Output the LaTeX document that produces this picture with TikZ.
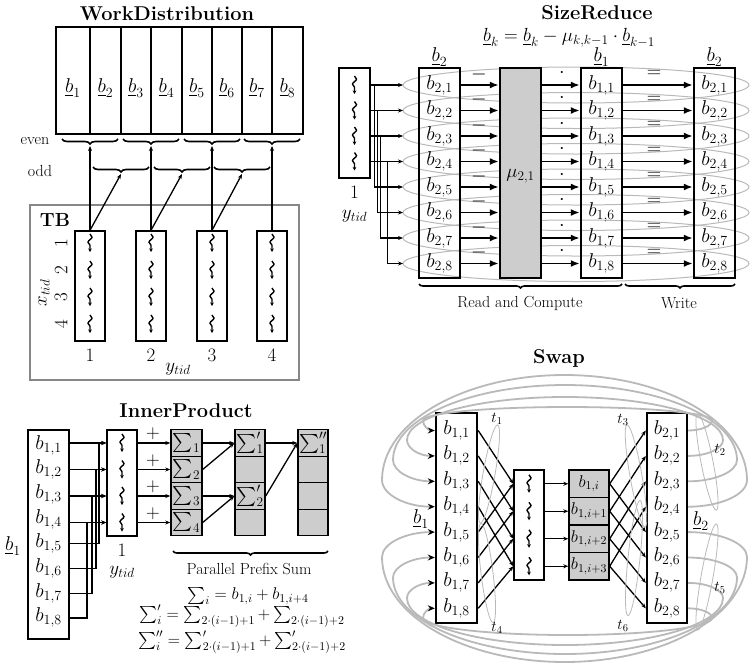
\documentclass[tikz,border=0pt]{standalone}
\usepackage{amsmath,amssymb}
\usetikzlibrary{calc,arrows.meta,positioning,decorations.pathmorphing,decorations.pathreplacing}
% scalable math fonts
\DeclareFontShape{OT1}{cmr}{m}{n}{<-6>cmr5<6-7>cmr6<7-8>cmr7<8-9>cmr8<9-10>cmr9<10-12>cmr10<12-17>cmr12<17->cmr17}{}
\DeclareFontShape{OML}{cmm}{m}{it}{<-6>cmmi5<6-7>cmmi6<7-8>cmmi7<8-9>cmmi8<9-10>cmmi9<10-12>cmmi10<12->cmmi12}{}
\DeclareFontShape{OMS}{cmsy}{m}{n}{<-6>cmsy5<6-7>cmsy6<7-8>cmsy7<8-9>cmsy8<9-10>cmsy9<10->cmsy10}{}
\DeclareFontShape{OMX}{cmex}{m}{n}{<-7.5>cmex7<7.5-8.5>cmex8<8.5-9.5>cmex9<9.5->cmex10}{}
\definecolor{cellgray}{RGB}{205,205,205}
\definecolor{ringgray}{RGB}{185,185,185}
\definecolor{framegray}{RGB}{135,135,135}
\tikzset{
  ptitle/.style={font=\fontsize{20}{22}\selectfont\bfseries, inner sep=0pt},
  plabel/.style={font=\fontsize{20}{22}\selectfont, inner sep=0pt},
  pnum/.style  ={font=\fontsize{19}{21}\selectfont, inner sep=0pt},
  pform/.style ={font=\fontsize{17}{19}\selectfont, inner sep=0pt},
  psmall/.style={font=\fontsize{16}{18}\selectfont, inner sep=0pt},
  ptiny/.style ={font=\fontsize{15}{17}\selectfont, inner sep=0pt},
  pvec/.style  ={draw, line width=2.4pt, inner sep=0pt},
  pthread/.style={draw, line width=1.4pt, inner sep=0pt, minimum width=30pt, minimum height=110pt},
  pcell/.style ={draw, line width=1.4pt, fill=cellgray, inner sep=0pt},
  pwig/.style  ={decorate, decoration={snake, amplitude=2pt, segment length=10pt, post length=3pt},
                 line width=1.4pt, -{Stealth[length=3.5pt, width=3.5pt]}},
  parr/.style  ={-{Stealth[length=5pt, width=4pt]}, line width=1.3pt},
  pbig/.style  ={-{Latex[length=9pt, width=7pt]}, line width=1.8pt},
  pbrace/.style={decorate, decoration={brace, mirror, amplitude=5pt}, line width=1.6pt},
  pring/.style ={ringgray, line width=1pt},
  pswing/.style={ringgray, line width=1.8pt, -{Stealth[length=7pt, width=6pt, black]}},
  ploop/.style ={ringgray, line width=0.8pt},
}

\begin{document}
\begin{tikzpicture}[x=1pt, y=-1pt]
  \useasboundingbox (0,0) rectangle (751,664);

  % WorkDistribution
  \node[ptitle] (wdtitle) at (167,14) {WorkDistribution};
  \node[draw, line width=2pt, minimum width=247pt, minimum height=107pt, inner sep=0pt] (wdvec) at (179.5,80.5) {};
  \foreach \x in {90,121,151,182,212,242,272}
    \draw[line width=1.2pt] (\x,0 |- wdvec.north) -- (\x,0 |- wdvec.south);
  \foreach \i/\x in {1/73, 2/105.5, 3/136, 4/166.5, 5/197, 6/227, 7/257, 8/287.5}
    \node[plabel] (wdb\i) at (\x,88) {$\underline{b}_{\i}$};
  \foreach \k/\x in {1/90, 2/151, 3/212, 4/272} {
    \draw[pbrace] ({\x-28},139) -- ({\x+28},139);
    \coordinate (wdev\k) at (\x,146);
  }
  \foreach \k/\x in {1/121, 2/182, 3/242} {
    \draw[pbrace] ({\x-28},167) -- ({\x+28},167);
    \coordinate (wdod\k) at (\x,174);
  }
  \node[psmall] (wdeven) at (35,141) {even};
  \node[psmall] (wdodd) at (40,171) {odd};
  \node[draw=framegray, line width=1.8pt, minimum width=269pt, minimum height=175pt] (wdtb) at (164.5,292.5) {};
  \node[font=\fontsize{19}{21}\selectfont\bfseries, inner sep=0pt] (wdtbl) at (55,220) {TB};
  \foreach \i/\x in {1/90, 2/151, 3/212, 4/272} {
    \node[pthread] (wdth\i) at (\x,286) {};
    \foreach \y in {243,270,297,324}
      \draw[pwig] (\x,{\y-9}) -- (\x,{\y+9});
    \node[pnum] (wdy\i) at (\x,355) {\i};
    \draw[parr] (wdth\i.north) -- (wdev\i);
  }
  \foreach \i in {1,2,3}
    \draw[parr] (wdth\i.north) -- (wdod\i);
  \foreach \i/\y in {1/243, 2/270, 3/297, 4/324}
    \node[pnum, rotate=90] (wdx\i) at (61,\y) {\i};
  \node[pnum, rotate=90] (wdxt) at (44,293) {$x_{tid}$};
  \node[pnum] (wdyt) at (178,369) {$y_{tid}$};

  % SizeReduce
  \node[ptitle] (srtitle) at (597,13) {SizeReduce};
  \node[pnum] (srform) at (569,38) {$\underline{b}_k = \underline{b}_k - \mu_{k,k-1}\cdot\underline{b}_{k-1}$};
  \foreach \i [evaluate=\i as \y using 85+25.5*(\i-1)] in {1,...,8} {
    \draw[pring] (576,\y) ellipse [x radius=173, y radius=18];
    \coordinate (srl\i) at (403,\y);
  }
  \node[pvec, minimum width=41pt, minimum height=210pt] (srb2) at (439.5,173) {};
  \node[pcell, line width=2.4pt, minimum width=41pt, minimum height=210pt] (srmu) at (520.5,173) {};
  \node[pvec, minimum width=41pt, minimum height=210pt] (srb1) at (601.5,173) {};
  \node[pvec, minimum width=41pt, minimum height=210pt] (srw2) at (714.5,173) {};
  \node[plabel] (srb2l) at (439.5,57) {$\underline{b}_2$};
  \node[plabel] (srb1l) at (601.5,57) {$\underline{b}_1$};
  \node[plabel] (srw2l) at (714.5,57) {$\underline{b}_2$};
  \node[pnum] (srmul) at (520.5,176) {$\mu_{2,1}$};
  \foreach \i [evaluate=\i as \y using 85+25.5*(\i-1)] in {1,...,8} {
    \node[plabel] (srp\i) at (439.5,\y) {$b_{2,\i}$};
    \node[plabel] (srq\i) at (601.5,\y) {$b_{1,\i}$};
    \node[plabel] (srr\i) at (714.5,\y) {$b_{2,\i}$};
    \draw[pbig] (srb2.east |- srl\i) -- (srmu.west |- srl\i);
    \draw[pbig] (srmu.east |- srl\i) -- (srb1.west |- srl\i);
    \draw[pbig] (srb1.east |- srl\i) -- (srw2.west |- srl\i);
    \node[plabel] (srminus\i) at (479,{\y-11}) {$-$};
    \node[plabel] (srdot\i) at (562,{\y-12}) {$\cdot$};
    \node[plabel] (sreq\i) at (654,{\y-11}) {$=$};
  }
  \node[pthread, minimum width=31pt] (srth) at (354.5,123) {};
  \foreach \j/\dx/\k [evaluate=\j as \y using 85+25.5*(\j-1)] in {1/4/5, 2/7/6, 3/10/7, 4/17/8} {
    \draw[pwig] (354.5,{\y-9}) -- (354.5,{\y+9});
    \draw[parr] (srth.east |- srl\j) -- (srl\j);
    \draw[parr] (srth.east |- srl\j) -- ++(\dx,0) |- (srl\k);
  }
  \node[pnum] (sry1) at (354.5,192) {1};
  \node[pnum] (sryt) at (354.5,216) {$y_{tid}$};
  \draw[pbrace, decoration={amplitude=4pt}] (419,284) -- (622,284);
  \draw[pbrace, decoration={amplitude=4pt}] (625,284) -- (735,284);
  \node[psmall] (srrc) at (520,303) {Read and Compute};
  \node[psmall] (srwr) at (679,303) {Write};

  % InnerProduct
  \node[ptitle] (iptitle) at (186,411) {InnerProduct};
  \node[pvec, minimum width=41pt, minimum height=209pt] (ipb1) at (48.5,534.5) {};
  \node[plabel] (ipb1l) at (13,546) {$\underline{b}_1$};
  \foreach \i [evaluate=\i as \y using 445+24.7*(\i-1)] in {1,...,8}
    \node[plabel] (ipr\i) at (48.5,\y) {$b_{1,\i}$};
  \node[pthread, minimum height=106pt] (ipth) at (122,483) {};
  \foreach \j/\k/\xk [evaluate=\j as \y using 443+26.5*(\j-1)] in {1/5/99, 2/6/96, 3/7/92, 4/8/87} {
    \coordinate (ipc\j) at (122,\y);
    \draw[pwig] (122,{\y-9}) -- (122,{\y+9});
    \draw[parr] (ipb1.east |- ipc\j) -- (ipth.west |- ipc\j);
    \draw[parr] (ipb1.east |- ipr\k) -| (\xk,0 |- ipc\j) -- (ipth.west |- ipc\j);
  }
  \node[pnum] (ipy1) at (122,550) {1};
  \node[pnum] (ipyt) at (122,572) {$y_{tid}$};
  \foreach \j [evaluate=\j as \y using 443+26.5*(\j-1)] in {1,...,4} {
    \node[pcell, minimum width=31pt, minimum height=26.5pt, font=\fontsize{19}{21}\selectfont] (ipsA\j) at (186.5,\y) {$\sum_{\j}$};
    \node[pcell, minimum width=30pt, minimum height=26.5pt] (ipsB\j) at (250,\y) {};
    \node[pcell, minimum width=30pt, minimum height=26.5pt] (ipsC\j) at (313,\y) {};
    \draw[parr] (ipth.east |- ipc\j) -- (ipsA\j.west);
    \node[pnum] (ipplus\j) at (153,{\y-9}) {$+$};
  }
  \node[pnum] (ipsB1t) at (ipsB1) {$\sum'_1$};
  \node[pnum] (ipsB3t) at (ipsB3) {$\sum'_2$};
  \node[pnum] (ipsC1t) at (ipsC1) {$\sum''_1$};
  \draw[parr] (ipsA1.east) -- (ipsB1.west);
  \draw[parr] (ipsA2.east) -- (ipsB1.west);
  \draw[parr] (ipsA3.east) -- (ipsB3.west);
  \draw[parr] (ipsA4.east) -- (ipsB3.west);
  \draw[parr] (ipsB1.east) -- (ipsC1.west);
  \draw[parr] (ipsB3.east) -- (ipsC1.west);
  \draw[pbrace, decoration={amplitude=4pt}] (173,551) -- (328,551);
  \node[psmall] (ipps) at (249,569) {Parallel Prefix Sum};
  \node[pform] (ipf1) at (248,596) {$\sum_i = b_{1,i} + b_{1,i+4}$};
  \node[pform] (ipf2) at (242,616) {$\sum'_i = \sum_{2\cdot(i-1)+1} + \sum_{2\cdot(i-1)+2}$};
  \node[pform] (ipf3) at (242,642) {$\sum''_i = \sum'_{2\cdot(i-1)+1} + \sum'_{2\cdot(i-1)+2}$};

  % Swap
  \node[ptitle] (swtitle) at (559,358) {Swap};
  \node[pvec, minimum width=41pt, minimum height=210pt] (swb1) at (456.5,518) {};
  \node[pvec, minimum width=40pt, minimum height=210pt] (swb2) at (667,518) {};
  \node[plabel] (swb1l) at (421,519) {$\underline{b}_1$};
  \node[plabel] (swb2l) at (701,521) {$\underline{b}_2$};
  \foreach \i [evaluate=\i as \y using 430.5+25.4*(\i-1)] in {1,...,8} {
    \node[plabel] (swp\i) at (456.5,\y) {$b_{1,\i}$};
    \node[plabel] (swq\i) at (667,\y) {$b_{2,\i}$};
  }
  \foreach \i/\xr/\xl/\yt/\yr [evaluate=\i as \y using 430.5+25.4*(\i-1),
                              evaluate=\xr as \cx using (\xr+\xl)/2] in
      {1/712/423/407/420.5, 2/723/407/397/440, 3/737/393/385/460, 4/747/382/375/480,
       5/747/382/662/557, 6/737/393/654/577.5, 7/723/407/645/598, 8/712/423/635/618}
    \draw[pswing] (swb2.east |- swq\i)
      .. controls ({687+0.552*(\xr-687)},\y) and (\xr,{\yr+0.552*(\y-\yr)}) .. (\xr,\yr)
      .. controls (\xr,{\yr-0.552*(\yr-\yt)}) and ({\cx+0.552*(\xr-\cx)},\yt) .. (\cx,\yt)
      .. controls ({\cx-0.552*(\cx-\xl)},\yt) and (\xl,{\yr-0.552*(\yr-\yt)}) .. (\xl,\yr)
      .. controls (\xl,{\yr+0.552*(\y-\yr)}) and ({436-0.552*(436-\xl)},\y) .. (swb1.west |- swp\i);
  \node[pthread] (swth) at (529,525) {};
  \foreach \j/\t [evaluate=\j as \y using 470+27.5*(\j-0.5)] in {1/i, 2/i+1, 3/i+2, 4/i+3} {
    \node[pcell, minimum width=40pt, minimum height=27.5pt, font=\fontsize{17}{19}\selectfont] (swg\j) at (589,\y) {$b_{1,\t}$};
    \draw[pwig] (529,{\y-9}) -- (529,{\y+9});
    \draw[parr] (swth.east |- swg\j) -- (swg\j.west);
  }
  \foreach \i/\j in {1/1, 2/2, 3/3, 4/4, 5/1, 6/2, 7/3, 8/4}
    \draw[parr] (swb1.east |- swp\i) -- (swth.west |- swg\j);
  \foreach \j/\i in {1/1, 1/5, 2/2, 2/6, 3/3, 3/7, 4/4, 4/8}
    \draw[parr] (swg\j.east) -- (swb2.west |- swq\i);
  \draw[ploop, rotate around={-10:(489,474)}] (489,474) ellipse [x radius=6, y radius=50];
  \draw[ploop, rotate around={7:(487,573)}] (487,573) ellipse [x radius=6, y radius=50];
  \draw[ploop, rotate around={10:(636,476)}] (636,476) ellipse [x radius=6, y radius=52];
  \draw[ploop, rotate around={-6:(634,558)}] (634,558) ellipse [x radius=6, y radius=58];
  \draw[ploop, rotate around={11:(707,462)}] (707,462) ellipse [x radius=6, y radius=49];
  \draw[ploop, rotate around={-10:(707,577)}] (707,577) ellipse [x radius=6, y radius=54];
  \node[ptiny] (swt1) at (497,419) {$t_1$};
  \node[ptiny] (swt4) at (497,628) {$t_4$};
  \node[ptiny] (swt3) at (623,420) {$t_3$};
  \node[ptiny] (swt6) at (623,626) {$t_6$};
  \node[ptiny] (swt2) at (720,450) {$t_2$};
  \node[ptiny] (swt5) at (720,588) {$t_5$};
\end{tikzpicture}
\end{document}
